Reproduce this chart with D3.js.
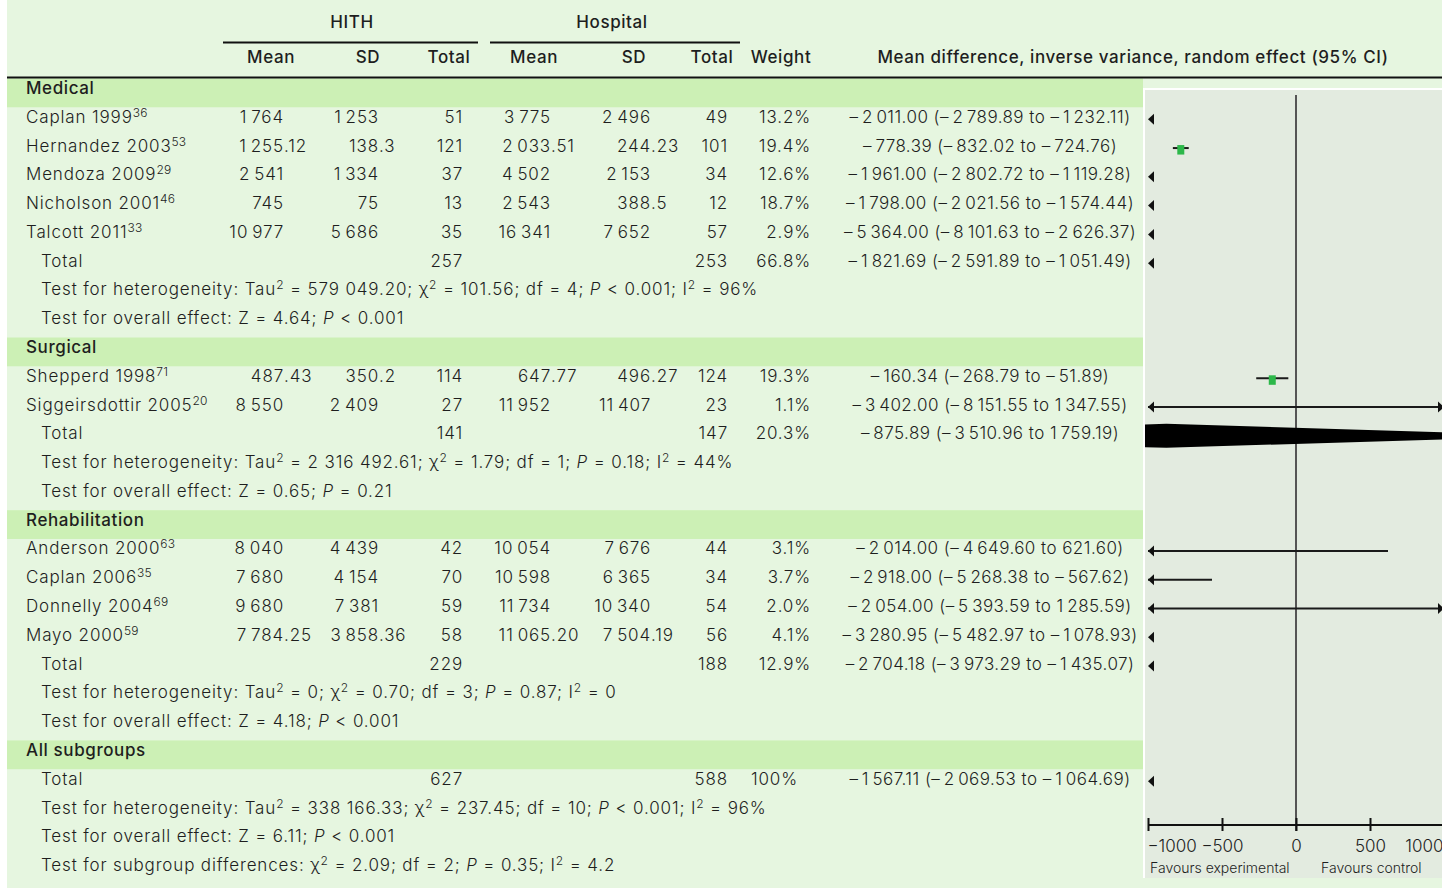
<!DOCTYPE html>
<html>
<head>
<meta charset="utf-8">
<script src="https://cdn.jsdelivr.net/npm/d3@7"></script>
<style>
  html, body { margin: 0; padding: 0; background: #ffffff; }
  svg { display: block; }
  text { font-family: Inter, "Open Sans", sans-serif; fill: #1e1e1e; }
</style>
</head>
<body>
<svg id="chart" width="1442" height="890"></svg>
<script>
// ---- Study-level data (cost per patient) ----
const studyNames = ["Caplan 1999", "Hernandez 2003", "Mendoza 2009", "Nicholson 2001", "Talcott 2011",
  "Shepperd 1998", "Siggeirsdottir 2005",
  "Anderson 2000", "Caplan 2006", "Donnelly 2004", "Mayo 2000"];
const studyRefs = ["36", "53", "29", "46", "33", "71", "20", "63", "35", "69", "59"];
const studyGroups = ["Medical", "Medical", "Medical", "Medical", "Medical",
  "Surgical", "Surgical",
  "Rehabilitation", "Rehabilitation", "Rehabilitation", "Rehabilitation"];
// means and SDs kept as printed so trailing decimals survive
const hithMean = ["1764", "1255.12", "2541", "745", "10977", "487.43", "8550", "8040", "7680", "9680", "7784.25"];
const hithSD = ["1253", "138.3", "1334", "75", "5686", "350.2", "2409", "4439", "4154", "7381", "3858.36"];
const hithN = [51, 121, 37, 13, 35, 114, 27, 42, 70, 59, 58];
const hospMean = ["3775", "2033.51", "4502", "2543", "16341", "647.77", "11952", "10054", "10598", "11734", "11065.20"];
const hospSD = ["2496", "244.23", "2153", "388.5", "7652", "496.27", "11407", "7676", "6365", "10340", "7504.19"];
const hospN = [49, 101, 34, 12, 57, 124, 23, 44, 34, 54, 56];
const studyWeight = [13.2, 19.4, 12.6, 18.7, 2.9, 19.3, 1.1, 3.1, 3.7, 2.0, 4.1];
const studyMD = [-2011.00, -778.39, -1961.00, -1798.00, -5364.00, -160.34, -3402.00, -2014.00, -2918.00, -2054.00, -3280.95];
const studyLow = [-2789.89, -832.02, -2802.72, -2021.56, -8101.63, -268.79, -8151.55, -4649.60, -5268.38, -5393.59, -5482.97];
const studyHigh = [-1232.11, -724.76, -1119.28, -1574.44, -2626.37, -51.89, 1347.55, 621.60, -567.62, 1285.59, -1078.93];

// ---- Subgroup totals ----
const groupNames = ["Medical", "Surgical", "Rehabilitation"];
const groupHithN = [257, 141, 229];
const groupHospN = [253, 147, 188];
const groupWeight = [66.8, 20.3, 12.9];
const groupMD = [-1821.69, -875.89, -2704.18];
const groupLow = [-2591.89, -3510.96, -3973.29];
const groupHigh = [-1051.49, 1759.19, -1435.07];
const groupHeterogeneity = [
  "Test for heterogeneity: Tau^2 = 579 049.20; χ^2 = 101.56; df = 4; _P_ < 0.001; I^2 = 96%",
  "Test for heterogeneity: Tau^2 = 2 316 492.61; χ^2 = 1.79; df = 1; _P_ = 0.18; I^2 = 44%",
  "Test for heterogeneity: Tau^2 = 0; χ^2 = 0.70; df = 3; _P_ = 0.87; I^2 = 0"];
const groupOverall = [
  "Test for overall effect: Z = 4.64; _P_ < 0.001",
  "Test for overall effect: Z = 0.65; _P_ = 0.21",
  "Test for overall effect: Z = 4.18; _P_ < 0.001"];

// ---- All subgroups pooled ----
const allLabel = "All subgroups";
const allHithN = 627;
const allHospN = 588;
const allWeight = 100;
const allMD = -1567.11;
const allLow = -2069.53;
const allHigh = -1064.69;
const allNotes = [
  "Test for heterogeneity: Tau^2 = 338 166.33; χ^2 = 237.45; df = 10; _P_ < 0.001; I^2 = 96%",
  "Test for overall effect: Z = 6.11; _P_ < 0.001",
  "Test for subgroup differences: χ^2 = 2.09; df = 2; _P_ = 0.35; I^2 = 4.2"];

// ---- Axis ----
const axisTicks = [-1000, -500, 0, 500, 1000];
const axisDomain = [-1000, 1000];
const favourLeft = "Favours experimental";
const favourRight = "Favours control";

// ---- Build the row sequence ----
const rows = [];
groupNames.forEach((g, gi) => {
  rows.push({ kind: "band", label: g });
  studyNames.forEach((n, i) => {
    if (studyGroups[i] !== g) return;
    rows.push({ kind: "study", label: n, ref: studyRefs[i],
      hm: hithMean[i], hs: hithSD[i], hn: hithN[i],
      pm: hospMean[i], ps: hospSD[i], pn: hospN[i],
      w: studyWeight[i], md: studyMD[i], lo: studyLow[i], hi: studyHigh[i] });
  });
  rows.push({ kind: "total", label: "Total", hn: groupHithN[gi], pn: groupHospN[gi],
    w: groupWeight[gi], md: groupMD[gi], lo: groupLow[gi], hi: groupHigh[gi] });
  rows.push({ kind: "note", label: groupHeterogeneity[gi] });
  rows.push({ kind: "note", label: groupOverall[gi] });
});
rows.push({ kind: "band", label: allLabel });
rows.push({ kind: "total", label: "Total", hn: allHithN, pn: allHospN,
  w: allWeight, md: allMD, lo: allLow, hi: allHigh });
allNotes.forEach(t => rows.push({ kind: "note", label: t }));

// ---- Layout ----
const W = 1442, H = 890;
const tableTop = 78.5, rowH = 28.78;
const rowTop = i => tableTop + i * rowH;
const fs = 17;
const spacing = 0.85;
const col = {
  name: 26, indent: 41,
  hithMean: 284, hithSD: 379, hithN: 463,
  hospMean: 551, hospSD: 651, hospN: 728,
  weight: 811, md: 990
};
const panel = { x0: 1145, y0: 90, x1: 1442, y1: 878 };

const svg = d3.select("#chart");

// backgrounds
svg.append("rect").attr("x", 7).attr("y", 0).attr("width", W - 7).attr("height", 888).attr("fill", "#e6f6e0");
svg.append("rect").attr("x", panel.x0 - 2).attr("y", panel.y0 - 2)
  .attr("width", panel.x1 - panel.x0 + 2).attr("height", panel.y1 - panel.y0 + 2).attr("fill", "#ffffff");
svg.append("rect").attr("x", panel.x0).attr("y", panel.y0)
  .attr("width", panel.x1 - panel.x0).attr("height", panel.y1 - panel.y0).attr("fill", "#e3ebe0");

// subgroup bands
rows.forEach((r, i) => {
  if (r.kind !== "band") return;
  svg.append("rect").attr("x", 7).attr("y", rowTop(i)).attr("width", 1136).attr("height", rowH)
    .attr("fill", "#ccf0b5");
});

// header
const head = svg.append("g").attr("font-size", fs).attr("font-weight", 500).attr("letter-spacing", 0.6);
head.append("text").attr("x", 352).attr("y", 28).attr("text-anchor", "middle").text("HITH");
head.append("text").attr("x", 612).attr("y", 28).attr("text-anchor", "middle").text("Hospital");
svg.append("line").attr("x1", 223).attr("x2", 478).attr("y1", 42.5).attr("y2", 42.5).attr("stroke", "#111").attr("stroke-width", 2);
svg.append("line").attr("x1", 490).attr("x2", 740).attr("y1", 42.5).attr("y2", 42.5).attr("stroke", "#111").attr("stroke-width", 2);
[["Mean", 271], ["SD", 368], ["Total", 449], ["Mean", 534], ["SD", 634], ["Total", 712], ["Weight", 781],
 ["Mean difference, inverse variance, random effect (95% CI)", 1133]].forEach(([t, x]) => {
  head.append("text").attr("x", x).attr("y", 63).attr("text-anchor", "middle").text(t);
});
svg.append("line").attr("x1", 7).attr("x2", W).attr("y1", 77.5).attr("y2", 77.5).attr("stroke", "#111").attr("stroke-width", 2.2);

// number formatting helpers
const TS = "\u2009";
const groupDigits = s => s.replace(/\B(?=(\d{3})+(?!\d))/g, TS);
function fmtSigned(v) {
  const a = Math.abs(v).toFixed(2).split(".");
  return (v < 0 ? "–" + TS : "") + groupDigits(a[0]) + "." + a[1];
}
const fmtMD = r => `${fmtSigned(r.md)} (${fmtSigned(r.lo)} to ${fmtSigned(r.hi)})`;
const fmtWeight = w => (w === 100 ? "100" : w.toFixed(1)) + "%";

const body = svg.append("g").attr("font-size", fs).attr("font-weight", 300).attr("letter-spacing", spacing);

// value aligned on its decimal point
function decimalCell(y, str, x) {
  const [ip, dp] = str.split(".");
  body.append("text").attr("x", x).attr("y", y).attr("text-anchor", "end").text(groupDigits(ip));
  if (dp !== undefined) body.append("text").attr("x", x).attr("y", y).text("." + dp);
}
function rightCell(y, str, x) {
  body.append("text").attr("x", x).attr("y", y).attr("text-anchor", "end").text(str);
}
// note text with ^2 superscripts and _P_ italics
function richText(y, str, x) {
  const t = body.append("text").attr("x", x).attr("y", y);
  const parts = str.split(/(\^2|_P_)/);
  let raised = false;
  parts.forEach(p => {
    if (p === "") return;
    if (p === "^2") {
      t.append("tspan").attr("dy", -6).attr("font-size", 12).text("2");
      raised = true;
    } else if (p === "_P_") {
      t.append("tspan").attr("dy", raised ? 6 : 0).attr("font-style", "italic").text("P");
      raised = false;
    } else {
      t.append("tspan").attr("dy", raised ? 6 : 0).text(p);
      raised = false;
    }
  });
}

rows.forEach((r, i) => {
  const y = rowTop(i) + 15.5;
  if (r.kind === "band") {
    body.append("text").attr("x", col.name).attr("y", y).attr("font-weight", 500)
      .attr("letter-spacing", 0.6).text(r.label);
    return;
  }
  if (r.kind === "note") { richText(y, r.label, col.indent); return; }
  if (r.kind === "study") {
    const t = body.append("text").attr("x", col.name).attr("y", y);
    t.append("tspan").text(r.label);
    t.append("tspan").attr("dy", -6).attr("font-size", 12).attr("letter-spacing", 0.2).text(r.ref);
    decimalCell(y, r.hm, col.hithMean);
    decimalCell(y, r.hs, col.hithSD);
    decimalCell(y, r.pm, col.hospMean);
    decimalCell(y, r.ps, col.hospSD);
  } else {
    body.append("text").attr("x", col.indent).attr("y", y).text(r.label);
  }
  rightCell(y, String(r.hn), col.hithN);
  rightCell(y, String(r.pn), col.hospN);
  rightCell(y, fmtWeight(r.w), r.w === 100 ? col.weight - 13 : col.weight);
  body.append("text").attr("x", col.md).attr("y", y).attr("text-anchor", "middle")
    .attr("letter-spacing", 0.45).text(fmtMD(r));
});

// ---- Forest plot ----
const x = d3.scaleLinear().domain(axisDomain).range([1148, 1444]);
const axisY = 825;

svg.append("clipPath").attr("id", "plotClip").append("rect")
  .attr("x", panel.x0).attr("y", panel.y0).attr("width", panel.x1 - panel.x0).attr("height", panel.y1 - panel.y0);
const plot = svg.append("g").attr("clip-path", "url(#plotClip)");

// line of no effect
plot.append("line").attr("x1", x(0)).attr("x2", x(0)).attr("y1", 95).attr("y2", axisY + 6)
  .attr("stroke", "#555").attr("stroke-width", 2);

const lo0 = axisDomain[0], hi0 = axisDomain[1];
function arrowHead(cx, cy, dir) {
  // dir -1 points left, +1 points right
  plot.append("path")
    .attr("d", `M${cx},${cy} L${cx - dir * 6},${cy - 5.5} L${cx - dir * 6},${cy + 5.5} Z`)
    .attr("fill", "#111");
}

rows.forEach((r, i) => {
  if (r.kind !== "study" && r.kind !== "total") return;
  const cy = rowTop(i) + 12;
  if (r.hi < lo0) { arrowHead(x(lo0), cy, -1); return; }
  if (r.lo > hi0) { arrowHead(x(hi0), cy, 1); return; }
  if (r.kind === "total") {
    const h = 12;
    plot.append("path")
      .attr("d", `M${x(r.lo)},${cy} L${x(r.md)},${cy - h} L${x(r.hi)},${cy} L${x(r.md)},${cy + h} Z`)
      .attr("fill", "#000");
    return;
  }
  plot.append("line")
    .attr("x1", x(Math.max(r.lo, lo0))).attr("x2", x(Math.min(r.hi, hi0)))
    .attr("y1", cy).attr("y2", cy).attr("stroke", "#1a1a1a").attr("stroke-width", 2);
  if (r.lo < lo0) arrowHead(x(lo0), cy, -1);
  if (r.hi > hi0) arrowHead(x(hi0), cy, 1);
  if (r.md >= lo0 && r.md <= hi0) {
    plot.append("rect").attr("x", x(r.md) - 3.5).attr("y", cy - 3).attr("width", 7).attr("height", 9.5)
      .attr("fill", "#2db84a");
  }
});

// axis
const axis = svg.append("g").attr("transform", `translate(0,${axisY})`)
  .call(d3.axisBottom(x).tickValues(axisTicks).tickSize(0).tickFormat(d3.format("d")));
axis.select(".domain").attr("stroke", "#111").attr("stroke-width", 2).attr("d", `M${x(lo0)},0H${panel.x1}`);
axis.selectAll(".tick line").attr("y1", -7).attr("y2", 6).attr("stroke", "#111").attr("stroke-width", 2);
axis.selectAll(".tick text")
  .attr("y", 27).attr("dy", 0)
  .attr("font-family", "Inter, sans-serif").attr("font-size", 17).attr("font-weight", 300).attr("fill", "#1e1e1e")
  .attr("text-anchor", (d, k) => k === 0 ? "start" : (k === axisTicks.length - 1 ? "end" : "middle"))
  .attr("dx", (d, k) => k === 0 ? -1 : (k === axisTicks.length - 1 ? -1 : 0));

svg.append("text").attr("x", 1150).attr("y", 873).attr("font-size", 14).attr("font-weight", 300).text(favourLeft);
svg.append("text").attr("x", 1321).attr("y", 873).attr("font-size", 14).attr("font-weight", 300).text(favourRight);
</script>
</body>
</html>
